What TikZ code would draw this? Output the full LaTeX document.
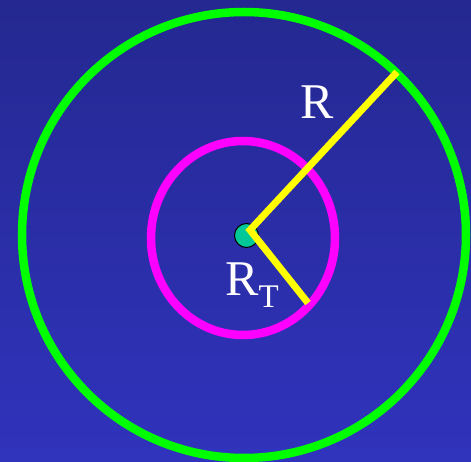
\documentclass[tikz,border=0pt]{standalone}
\usepackage{fontspec}
\setmainfont{Liberation Serif}
\definecolor{bgtop}{RGB}{36,40,144}
\definecolor{bgbot}{RGB}{48,51,188}
\definecolor{ringgreen}{RGB}{0,255,0}
\definecolor{ringmag}{RGB}{255,0,255}
\definecolor{radyel}{RGB}{255,255,0}
\definecolor{dotteal}{RGB}{0,200,150}
\tikzset{
  ring/.style={line width=8.5pt},
  radius line/.style={draw=radyel,line width=7pt},
  lbl/.style={text=white,font=\fontsize{50}{50}\selectfont,inner sep=0pt}
}
\begin{document}
\begin{tikzpicture}[x=1pt,y=-1pt]
\path[top color=bgtop,bottom color=bgbot] (0,0) rectangle (471,462);
\useasboundingbox (0,0) rectangle (471,462);
\draw[ring,draw=ringgreen] (244,235) ellipse [x radius=222,y radius=223];
\draw[ring,draw=ringmag] (243,238) ellipse [x radius=92,y radius=97];
\node[circle,fill=dotteal,draw=black,line width=1pt,minimum size=24pt,inner sep=0pt] (dot) at (246.5,235.5) {};
\coordinate (c) at (250,230);
\coordinate (outer) at (397,72);
\coordinate (inner) at (308,303);
\draw[radius line] (outer) -- (c) -- (inner);
\node[lbl] (R) at (317,102) {R};
\node[lbl,anchor=base] (RT) at (252,295) {R\raisebox{-12pt}{\fontsize{33}{33}\selectfont T}};
\end{tikzpicture}
\end{document}
